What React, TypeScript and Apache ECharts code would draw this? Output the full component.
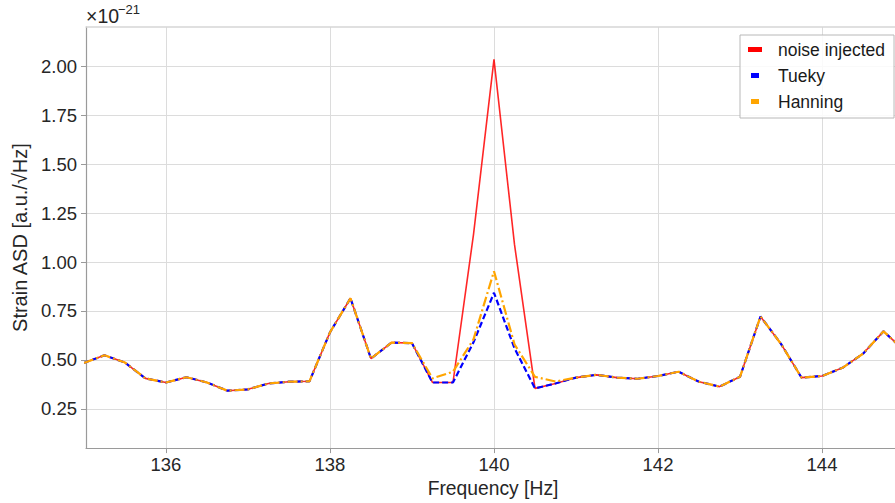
import React, { useEffect, useRef } from "react";
import * as echarts from "echarts";

const frequencies: number[] = [
  135.0, 135.25, 135.5, 135.75, 136.0, 136.25, 136.5, 136.75, 137.0, 137.25,
  137.5, 137.75, 138.0, 138.25, 138.5, 138.75, 139.0, 139.25, 139.5, 139.75,
  140.0, 140.25, 140.5, 140.75, 141.0, 141.25, 141.5, 141.75, 142.0, 142.25,
  142.5, 142.75, 143.0, 143.25, 143.5, 143.75, 144.0, 144.25, 144.5, 144.75,
  145.0,
];

const noiseInjected: number[] = [
  0.485, 0.524, 0.487, 0.406, 0.385, 0.412, 0.385, 0.343, 0.35, 0.38,
  0.389, 0.391, 0.641, 0.815, 0.507, 0.589, 0.586, 0.385, 0.385, 1.14,
  2.035, 1.09, 0.355, 0.38, 0.41, 0.424, 0.41, 0.404, 0.418, 0.44,
  0.389, 0.364, 0.414, 0.722, 0.582, 0.41, 0.418, 0.46, 0.532, 0.646,
  0.55,
];

const tueky: number[] = [
  0.485, 0.524, 0.487, 0.406, 0.385, 0.412, 0.385, 0.343, 0.35, 0.38,
  0.389, 0.391, 0.641, 0.815, 0.507, 0.589, 0.586, 0.385, 0.385, 0.59,
  0.843, 0.56, 0.355, 0.38, 0.41, 0.424, 0.41, 0.404, 0.418, 0.44,
  0.389, 0.364, 0.414, 0.722, 0.582, 0.41, 0.418, 0.46, 0.532, 0.646,
  0.55,
];

const hanning: number[] = [
  0.485, 0.524, 0.487, 0.406, 0.385, 0.412, 0.385, 0.343, 0.35, 0.38,
  0.389, 0.391, 0.641, 0.815, 0.507, 0.589, 0.586, 0.406, 0.44, 0.605,
  0.953, 0.58, 0.414, 0.39, 0.41, 0.424, 0.41, 0.404, 0.418, 0.44,
  0.389, 0.364, 0.414, 0.722, 0.582, 0.41, 0.418, 0.46, 0.532, 0.646,
  0.55,
];

const xTicks: number[] = [136, 138, 140, 142, 144];
const yTicks: number[] = [0.25, 0.5, 0.75, 1.0, 1.25, 1.5, 1.75, 2.0];

const FONT = "'Liberation Sans', Arial, Helvetica, sans-serif";

export default function App() {
  const ref = useRef<HTMLDivElement>(null);

  useEffect(() => {
    if (!ref.current) return;
    const chart = echarts.init(ref.current, undefined, { renderer: "svg" });
    const pairs = (ys: number[]) => frequencies.map((f, i) => [f, ys[i]]);

    chart.setOption({
      animation: false,
      backgroundColor: "#ffffff",
      textStyle: { fontFamily: FONT },
      grid: { left: 86, right: 0, top: 27, bottom: 51, containLabel: false },
      xAxis: [
        {
          type: "value",
          min: 135.025,
          max: 144.89,
          name: "Frequency [Hz]",
          nameLocation: "middle",
          nameGap: 23,
          nameTextStyle: { fontSize: 19.3, color: "#262626", fontFamily: FONT, padding: [0, 0, 0, 5] },
          axisLine: { show: true, lineStyle: { color: "#9a9a9a", width: 1.2 } },
          axisTick: { show: true, length: 5, lineStyle: { color: "#9a9a9a" }, customValues: xTicks },
          axisLabel: {
            customValues: xTicks,
            fontSize: 18.5,
            color: "#262626",
            fontFamily: FONT,
            margin: 7,
            formatter: (v: number) => String(Math.round(v)),
          },
          splitLine: { show: true, lineStyle: { color: "#dcdcdc", width: 1 } },
        },
        {
          type: "value",
          position: "top",
          min: 135.025,
          max: 144.89,
          axisLine: { show: true, lineStyle: { color: "#d6d6d6", width: 1.5 } },
          axisTick: { show: false },
          axisLabel: { show: false },
          splitLine: { show: false },
        },
      ],
      yAxis: {
        type: "value",
        min: 0.05,
        max: 2.2,
        name: "Strain ASD [a.u./√Hz]",
        nameLocation: "middle",
        nameGap: 55,
        nameTextStyle: { fontSize: 20, color: "#262626", fontFamily: FONT },
        axisLine: { show: true, lineStyle: { color: "#9a9a9a", width: 1.2 } },
        axisTick: { show: true, length: 5, lineStyle: { color: "#9a9a9a" }, customValues: yTicks },
        axisLabel: {
          customValues: yTicks,
          fontSize: 18.5,
          color: "#262626",
          fontFamily: FONT,
          margin: 9,
          formatter: (v: number) => v.toFixed(2),
        },
        splitLine: { show: true, lineStyle: { color: "#dcdcdc", width: 1 } },
      },
      legend: {
        orient: "vertical",
        left: 740,
        top: 35,
        padding: [5, 9, 7, 8],
        itemGap: 7,
        itemWidth: 14,
        itemHeight: 5,
        borderColor: "#b8b8b8",
        borderWidth: 1,
        borderRadius: 0,
        backgroundColor: "rgba(255,255,255,0.85)",
        itemStyle: { borderWidth: 0 },
        textStyle: { fontSize: 17.5, color: "#1a1a1a", fontFamily: FONT, padding: [0, 0, 0, 11], lineHeight: 19 },
        data: [
          { name: "noise injected", icon: "path://M0 0H14V5H0Z" },
          { name: "Tueky", icon: "path://M0 0H8V5H0Z" },
          { name: "Hanning", icon: "path://M0 0H8V5H0Z" },
        ],
      },
      graphic: [
        {
          type: "text",
          left: 86,
          top: 6,
          style: { text: "×10", fontSize: 19.5, fill: "#262626", fontFamily: FONT },
        },
        {
          type: "text",
          left: 118,
          top: 3,
          style: { text: "−21", fontSize: 13, fill: "#262626", fontFamily: FONT },
        },
      ],
      series: [
        {
          name: "noise injected",
          type: "line",
          data: pairs(noiseInjected),
          showSymbol: false,
          symbol: "none",
          itemStyle: { color: "#ff0000" },
          lineStyle: { color: "rgba(255,0,0,0.85)", width: 1.6, type: "solid" },
          z: 2,
        },
        {
          name: "Tueky",
          type: "line",
          data: pairs(tueky),
          showSymbol: false,
          symbol: "none",
          itemStyle: { color: "#0000ff" },
          lineStyle: { color: "#0000ff", width: 2.2, type: [6, 3] },
          z: 3,
        },
        {
          name: "Hanning",
          type: "line",
          data: pairs(hanning),
          showSymbol: false,
          symbol: "none",
          itemStyle: { color: "#ffa500" },
          lineStyle: { color: "#ffa500", width: 2.2, type: [10, 3, 2, 3] },
          z: 4,
        },
      ],
    });

    return () => chart.dispose();
  }, []);

  return (
    <div
      ref={ref}
      style={{ position: "absolute", left: 0, top: 0, width: 895, height: 503, background: "#fff" }}
    />
  );
}
